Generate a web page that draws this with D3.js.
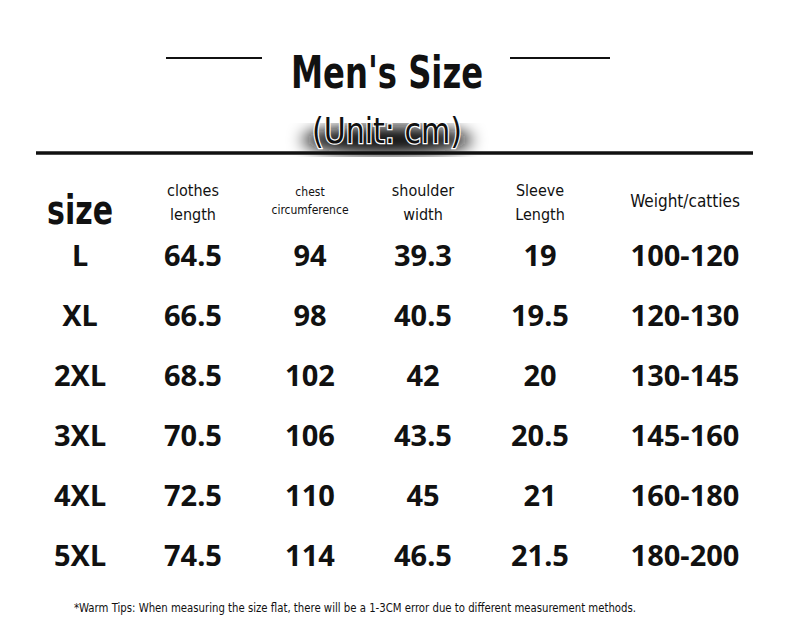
<!DOCTYPE html>
<html><head><meta charset="utf-8">
<script src="https://cdn.jsdelivr.net/npm/d3@7"></script>
<style>body{margin:0;background:#fff}</style></head>
<body><svg id="c" width="790" height="634"></svg>
<script>
const title = "Men's Size";
const unit = "(Unit: cm)";
const headers = [["size"],["clothes","length"],["chest","circumference"],["shoulder","width"],["Sleeve","Length"],["Weight/catties"]];
const sizes = ["L","XL","2XL","3XL","4XL","5XL"];
const clothesLength = ["64.5","66.5","68.5","70.5","72.5","74.5"];
const chest = ["94","98","102","106","110","114"];
const shoulder = ["39.3","40.5","42","43.5","45","46.5"];
const sleeve = ["19","19.5","20","20.5","21","21.5"];
const weight = ["100-120","120-130","130-145","145-160","160-180","180-200"];
const tip = "*Warm Tips: When measuring the size flat, there will be a 1-3CM error due to different measurement methods.";

const svg = d3.select("#c");
const cond = "'DejaVu Sans Condensed','DejaVu Sans',sans-serif";
const cols = [0,1,2,3,4,5];
const x = d3.scaleOrdinal().domain(cols).range([80,193,310,423,540,685]);
const y = d3.scalePoint().domain(d3.range(6)).range([255,555]);

svg.append("line").attr("x1",166).attr("x2",262).attr("y1",58).attr("y2",58).attr("stroke","#111").attr("stroke-width",2);
svg.append("line").attr("x1",510).attr("x2",610).attr("y1",58).attr("y2",58).attr("stroke","#111").attr("stroke-width",2);
svg.append("text").attr("x",291).attr("y",88).attr("font-family",cond).attr("font-weight","bold").attr("font-size",44).attr("fill","#111")
  .attr("textLength",192).attr("lengthAdjust","spacingAndGlyphs").text(title);
const defs = svg.append("defs");
defs.append("filter").attr("id","b").append("feGaussianBlur").attr("stdDeviation",8);
svg.append("ellipse").attr("cx",387).attr("cy",140).attr("rx",85).attr("ry",14).attr("fill","#111").attr("filter","url(#b)");
svg.append("text").attr("x",312).attr("y",143).attr("font-family",cond).attr("font-size",36).attr("fill","#111").attr("stroke","#fff").attr("stroke-width",2.5).attr("paint-order","stroke")
  .attr("textLength",150).attr("lengthAdjust","spacingAndGlyphs").text(unit);
svg.append("line").attr("x1",36).attr("x2",753).attr("y1",153).attr("y2",153).attr("stroke","#111").attr("stroke-width",3.5);

headers.forEach((h,i)=>{
  const t = svg.append("text").attr("x",x(i)).attr("text-anchor","middle").attr("font-family",cond).attr("fill","#111");
  if(i===0){ t.attr("y",224).attr("font-size",40).attr("font-weight","bold").attr("textLength",66).attr("lengthAdjust","spacingAndGlyphs").text(h[0]); return; }
  const fs = i===2?12:(i===5?17:16);
  if(h.length===1){ t.attr("y",207).attr("font-size",fs).text(h[0]); return; }
  h.forEach((s,k)=>t.append("tspan").attr("x",x(i)).attr("y",196+k*(i===2?18:24)).attr("font-size",fs).text(s));
});

const cols6 = [sizes,clothesLength,chest,shoulder,sleeve,weight];
cols6.forEach((arr,i)=>{
  svg.selectAll(null).data(arr).enter().append("text")
    .attr("x",x(i)).attr("y",(d,j)=>y(j)+11).attr("text-anchor","middle")
    .attr("font-family","'Noto Sans',sans-serif").attr("font-weight","bold").attr("font-size",29).attr("fill","#111").text(d=>d);
});

svg.append("text").attr("x",74).attr("y",612).attr("font-family",cond).attr("font-size",12).attr("fill","#111")
  .attr("textLength",562).attr("lengthAdjust","spacingAndGlyphs").text(tip);
</script></body></html>
